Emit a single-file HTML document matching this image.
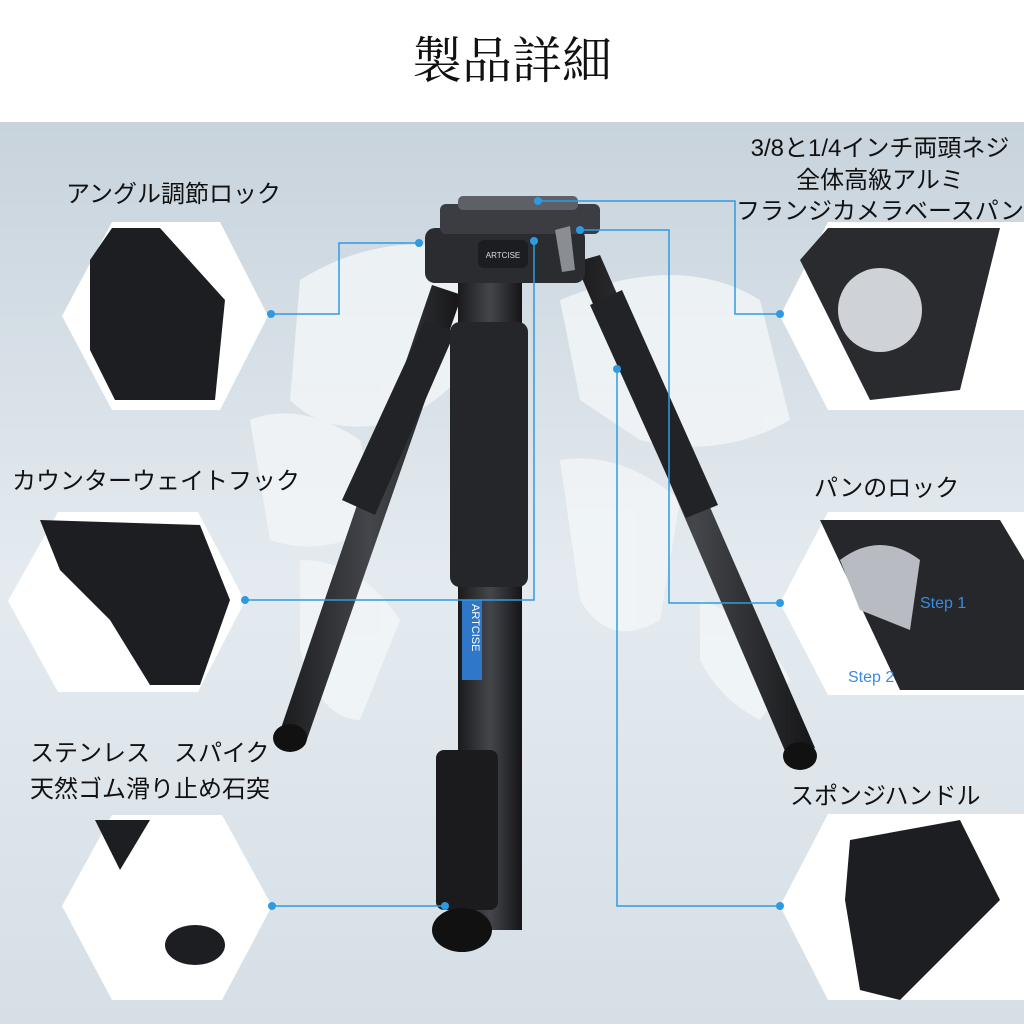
<!DOCTYPE html>
<html><head><meta charset="utf-8"><style>
body{margin:0;width:1024px;height:1024px;overflow:hidden;font-family:"Liberation Sans","Noto Sans CJK JP",sans-serif;}
</style></head><body>
<svg width="1024" height="1024" viewBox="0 0 1024 1024" xmlns="http://www.w3.org/2000/svg">
<defs>
<linearGradient id="bg" x1="0" y1="0" x2="0" y2="1"><stop offset="0" stop-color="#c8d3dc"/><stop offset="0.5" stop-color="#e4ebf0"/><stop offset="1" stop-color="#d6dfe6"/></linearGradient>
<linearGradient id="leg" x1="0" y1="0" x2="1" y2="0"><stop offset="0" stop-color="#1a1a1c"/><stop offset="0.5" stop-color="#44464b"/><stop offset="1" stop-color="#151517"/></linearGradient>
</defs>
<rect width="1024" height="1024" fill="#fff"/>
<rect y="122" width="1024" height="902" fill="url(#bg)"/>
<g fill="#f3f6f8" opacity="0.8">
<path d="M300 280 Q380 230 470 250 L500 330 Q450 400 400 420 Q330 440 290 400 Z"/>
<path d="M250 420 Q300 400 360 440 L380 520 Q330 560 270 540 Z"/>
<path d="M560 300 Q680 250 760 300 L790 420 Q720 460 640 440 L580 400 Z"/>
<path d="M560 460 Q620 450 680 500 L660 620 Q610 650 580 600 Z"/>
<path d="M300 560 Q360 560 400 620 L360 720 Q320 720 300 650 Z"/>
<path d="M700 600 Q760 620 790 680 L760 720 Q720 700 700 660 Z"/>
</g>
<text x="512" y="78" font-family="'Liberation Serif','Noto Serif CJK SC',serif" font-size="50" text-anchor="middle" fill="#111">製品詳細</text>
<!-- tripod -->
<g>
<path d="M432 285 L462 295 L305 745 L278 737 Z" fill="url(#leg)"/>
<path d="M425 320 L455 332 L375 515 L342 500 Z" fill="#222326"/>
<ellipse cx="290" cy="738" rx="17" ry="14" fill="#111"/>
<path d="M575 262 L600 255 L815 748 L788 758 Z" fill="url(#leg)"/>
<path d="M590 305 L622 290 L718 505 L686 518 Z" fill="#222326"/>
<ellipse cx="800" cy="756" rx="17" ry="14" fill="#111"/>
<rect x="458" y="250" width="64" height="680" fill="url(#leg)"/>
<rect x="450" y="322" width="78" height="265" rx="10" fill="#252629"/>
<rect x="436" y="750" width="62" height="160" rx="8" fill="#1b1b1d"/>
<ellipse cx="462" cy="930" rx="30" ry="22" fill="#111"/>
<rect x="462" y="600" width="20" height="80" fill="#2f77c9"/>
<text x="472" y="604" font-size="11" fill="#fff" transform="rotate(90 472 604)">ARTCISE</text>
<rect x="425" y="228" width="160" height="55" rx="10" fill="#2b2c30"/>
<rect x="440" y="204" width="160" height="30" rx="6" fill="#3b3d42"/>
<rect x="458" y="196" width="120" height="14" rx="5" fill="#5d6066"/>
<rect x="478" y="240" width="50" height="28" rx="6" fill="#1c1d20"/>
<text x="503" y="258" font-size="8" fill="#ddd" text-anchor="middle">ARTCISE</text>
<path d="M555 230 L570 226 L575 270 L562 272 Z" fill="#8a8d93"/>
</g>
<!-- hexagons -->
<g fill="#fff">
<path d="M62 316 L112 222 L220 222 L268 316 L220 410 L112 410 Z"/>
<path d="M8 601 L58 512 L198 512 L245 601 L198 692 L58 692 Z"/>
<path d="M62 906 L112 815 L222 815 L272 906 L222 1000 L112 1000 Z"/>
<path d="M780 316 L828 222 L1024 222 L1024 410 L828 410 Z"/>
<path d="M780 603 L828 512 L1024 512 L1024 695 L828 695 Z"/>
<path d="M780 906 L828 814 L1024 814 L1024 1000 L828 1000 Z"/>
</g>
<g fill="#1d1e21">
<path d="M90 260 L112 228 L160 228 L225 300 L215 400 L115 400 L90 350 Z"/>
<path d="M40 520 L200 525 L230 600 L200 685 L150 685 L110 620 L60 570 Z"/>
<path d="M95 820 L150 820 L120 870 Z"/>
<ellipse cx="195" cy="945" rx="30" ry="20"/>
<path d="M800 260 L828 228 L1000 228 L960 390 L870 400 Z" fill="#2a2b2e"/>
<path d="M820 520 L1000 520 L1024 560 L1024 690 L900 690 Z" fill="#26272a"/>
<path d="M850 840 L960 820 L1000 900 L900 1000 L860 990 L845 900 Z"/>
</g>
<circle cx="880" cy="310" r="42" fill="#cfd3d8"/>
<path d="M840 560 Q880 530 920 560 L910 630 L860 610 Z" fill="#b8bcc2"/>
<text x="920" y="608" font-size="16" fill="#3a8be0">Step 1</text>
<text x="848" y="682" font-size="16" fill="#3a8be0">Step 2</text>
<!-- connectors -->
<g stroke="#2e9be0" stroke-width="1.5" fill="none">
<path d="M271 314 H339 V243 H419"/>
<path d="M245 600 H534 V241"/>
<path d="M272 906 H445"/>
<path d="M538 201 H735 V314 H780"/>
<path d="M580 230 H669 V603 H780"/>
<path d="M617 369 V906 H780"/>
</g>
<g fill="#2e9be0">
<circle cx="271" cy="314" r="4"/><circle cx="419" cy="243" r="4"/>
<circle cx="245" cy="600" r="4"/><circle cx="534" cy="241" r="4"/>
<circle cx="272" cy="906" r="4"/><circle cx="445" cy="906" r="4"/>
<circle cx="538" cy="201" r="4"/><circle cx="780" cy="314" r="4"/>
<circle cx="580" cy="230" r="4"/><circle cx="780" cy="603" r="4"/>
<circle cx="617" cy="369" r="4"/><circle cx="780" cy="906" r="4"/>
</g>
<g font-size="24" fill="#111">
<text x="66" y="202">アングル調節ロック</text>
<text x="12" y="489">カウンターウェイトフック</text>
<text x="30" y="761">ステンレス　スパイク</text>
<text x="30" y="797">天然ゴム滑り止め石突</text>
<text x="880" y="156" text-anchor="middle">3/8と1/4インチ両頭ネジ</text>
<text x="880" y="188" text-anchor="middle">全体高級アルミ</text>
<text x="880" y="219" text-anchor="middle">フランジカメラベースパン</text>
<text x="814" y="496">パンのロック</text>
<text x="790" y="804">スポンジハンドル</text>
</g>
</svg>
</body></html>
